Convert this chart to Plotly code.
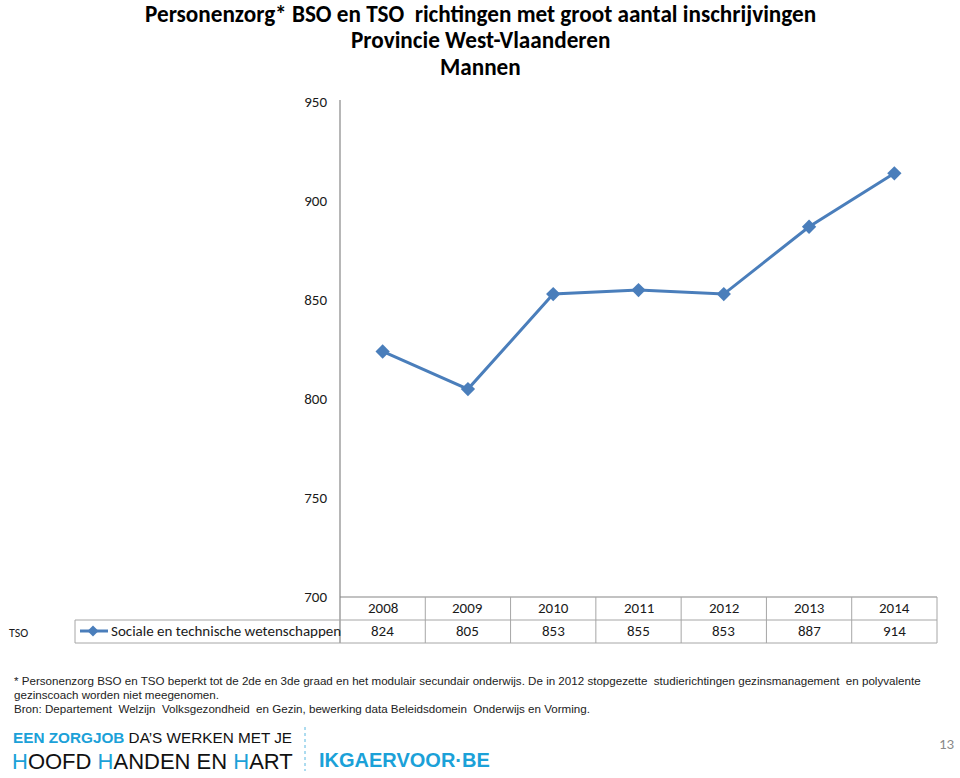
import plotly.graph_objects as go

years = ["2008", "2009", "2010", "2011", "2012", "2013", "2014"]
values = [824, 805, 853, 855, 853, 887, 914]
series_name = "Sociale en technische wetenschappen"
group_label = "TSO"
y_ticks = [700, 750, 800, 850, 900, 950]

W, H = 960, 778
def px(x): return x / W
def py(y): return 1 - y / H

BLUE = "#4a7ebb"
FONT = "Carlito, Lato, Liberation Sans, sans-serif"
SANS = "Liberation Sans, Arial, sans-serif"

fig = go.Figure()
fig.add_trace(go.Scatter(
    x=years, y=values, mode="lines+markers",
    line=dict(color=BLUE, width=3),
    marker=dict(symbol="diamond", size=11, color=BLUE),
    showlegend=False, hoverinfo="skip"))

x0, x1 = 340, 937
ytop, ybot = 102, 597
fig.update_layout(
    width=W, height=H, margin=dict(l=0, r=0, t=0, b=0, autoexpand=False),
    paper_bgcolor="white", plot_bgcolor="white",
    xaxis=dict(domain=[px(x0), px(x1)], type="category", showticklabels=False,
               showgrid=False, zeroline=False, showline=False, range=[-0.5, 6.5], fixedrange=True),
    yaxis=dict(domain=[py(ybot), py(ytop)], range=[700, 950], tickvals=y_ticks,
               showgrid=False, zeroline=False, showline=False, ticks="",
               ticklabelstandoff=12, tickfont=dict(family=FONT, size=15, color="#1a1a1a"),
               fixedrange=True),
)

shapes = []
GRID = "#a6a6a6"
shapes.append(dict(type="line", xref="paper", yref="paper", x0=px(x0), x1=px(x0), y0=py(ytop-2), y1=py(643), line=dict(color="#868686", width=1.2)))
shapes.append(dict(type="line", xref="paper", yref="paper", x0=px(x0), x1=px(x1), y0=py(597), y1=py(597), line=dict(color="#868686", width=1.2)))
for yy in (620, 643):
    shapes.append(dict(type="line", xref="paper", yref="paper", x0=px(75), x1=px(x1), y0=py(yy), y1=py(yy), line=dict(color=GRID, width=1)))
colw = (x1 - x0) / len(years)
for i in range(1, len(years) + 1):
    xx = x0 + i * colw
    shapes.append(dict(type="line", xref="paper", yref="paper", x0=px(xx), x1=px(xx), y0=py(597), y1=py(643), line=dict(color=GRID, width=1)))
shapes.append(dict(type="line", xref="paper", yref="paper", x0=px(75), x1=px(75), y0=py(620), y1=py(643), line=dict(color=GRID, width=1)))
shapes.append(dict(type="line", xref="paper", yref="paper", x0=px(80), x1=px(108), y0=py(631), y1=py(631), line=dict(color=BLUE, width=3)))
cx, cy, r = 93, 631, 5.5
shapes.append(dict(type="path", xref="paper", yref="paper",
                   path=f"M {px(cx)} {py(cy-r)} L {px(cx+r)} {py(cy)} L {px(cx)} {py(cy+r)} L {px(cx-r)} {py(cy)} Z",
                   fillcolor=BLUE, line=dict(color=BLUE, width=0)))
shapes.append(dict(type="line", xref="paper", yref="paper", x0=px(305), x1=px(305), y0=py(727), y1=py(771), line=dict(color="#5bb8e0", width=1, dash="dot")))
fig.update_layout(shapes=shapes)

ann = []
def A(**kw):
    kw.setdefault("showarrow", False)
    kw.setdefault("yanchor", "middle")
    kw.setdefault("yref", "paper")
    ann.append(kw)

for yy, t in [(14, "Personenzorg* BSO en TSO  richtingen met groot aantal inschrijvingen"),
              (40, "Provincie West-Vlaanderen"), (67, "Mannen")]:
    A(x=0.5, y=py(yy), xref="paper", xanchor="center",
      text=f"<b>{t}</b>", font=dict(family=FONT, size=23.2, color="black"))
for i, (yr, v) in enumerate(zip(years, values)):
    A(x=i, y=py(608), xref="x", xanchor="center", text=yr,
      font=dict(family=FONT, size=15, color="#1a1a1a"))
    A(x=i, y=py(631), xref="x", xanchor="center", text=str(v),
      font=dict(family=FONT, size=15, color="#1a1a1a"))
A(x=px(109), y=py(631), xref="paper", xanchor="left",
  text=series_name, font=dict(family=FONT, size=15, color="#1a1a1a"))
A(x=px(7), y=py(633), xref="paper", xanchor="left",
  text=group_label, font=dict(family=FONT, size=12, color="#1a1a1a"))
notes = [
    (680, "* Personenzorg BSO en TSO beperkt tot de 2de en 3de graad en het modulair secundair onderwijs. De in 2012 stopgezette  studierichtingen gezinsmanagement  en polyvalente"),
    (694, "gezinscoach worden niet meegenomen."),
    (708, "Bron: Departement  Welzijn  Volksgezondheid  en Gezin, bewerking data Beleidsdomein  Onderwijs en Vorming."),
]
for yy, t in notes:
    A(x=px(12), y=py(yy), xref="paper", xanchor="left",
      text=t, font=dict(family=SANS, size=11.6, color="#222"))
CY = "#1ba1d8"
A(x=px(11), y=py(737), xref="paper", xanchor="left",
  text=f"<b><span style='color:{CY}'>EEN ZORGJOB</span></b> DA’S WERKEN MET JE",
  font=dict(family=SANS, size=15.3, color="#111"))
A(x=px(10), y=py(761), xref="paper", xanchor="left",
  text=f"<span style='color:{CY}'>H</span>OOFD <span style='color:{CY}'>H</span>ANDEN EN <span style='color:{CY}'>H</span>ART",
  font=dict(family=SANS, size=22, color="#111"))
A(x=px(317), y=py(760), xref="paper", xanchor="left",
  text="<b>IKGAERVOOR·BE</b>", font=dict(family=SANS, size=20, color=CY))
A(x=px(957), y=py(744), xref="paper", xanchor="right",
  text="13", font=dict(family=FONT, size=15, color="#8a8a8a"))
fig.update_layout(annotations=ann)

fig.write_html("out.html")
